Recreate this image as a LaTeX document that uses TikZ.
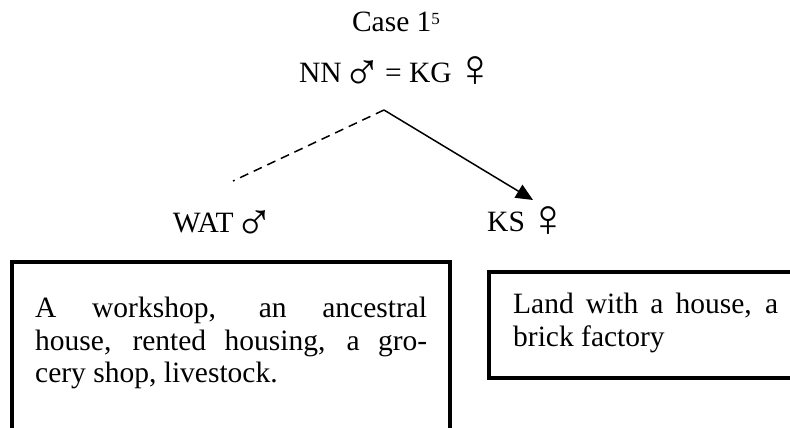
\documentclass[tikz,border=0pt]{standalone}
\usepackage{fontspec}
\usepackage{graphicx}
\setmainfont{Liberation Serif}
\usetikzlibrary{arrows.meta,calc}
\newcommand{\gmale}{\hspace{-6pt}\raisebox{-8pt}{\scalebox{1.8}{♂}}\hspace{-5pt}}
\newcommand{\gfemale}{\hspace{-4pt}\raisebox{-5pt}{\scalebox{1.8}{♀}}\hspace{-4pt}}
\newcommand{\supnum}[1]{\raisebox{7pt}{\fontsize{17}{17}\selectfont #1}}
\hbadness=10000
\begin{document}
\begin{tikzpicture}[x=1pt,y=-1pt,
  lbl/.style={inner sep=0pt, font=\fontsize{29.5}{32.5}\selectfont},
  para/.style={inner sep=0pt, align=justify, font=\fontsize{29.5}{32.5}\selectfont},
  frame/.style={draw, line width=4.5pt},
  link/.style={line width=1.5pt},
  kinline/.style={link, dash pattern=on 9pt off 6pt},
  heir/.style={link, -{Triangle[length=17pt,width=15pt]}}]
\useasboundingbox (0,0) rectangle (790,428);

% heading: case number and the couple
\node[lbl, anchor=base] (title) at (396,32) {Case 1\supnum{5}};
\node[lbl, anchor=base] (couple) at (397,82) {NN \gmale{} = KG \gfemale};

% descendants
\node[lbl, anchor=base east] (wat) at (275,232) {WAT \gmale};
\node[lbl, anchor=base west] (ks) at (487,231) {KS \gfemale};

% connectors from the couple
\coordinate (junction) at (384,110);
\coordinate (watend) at (233,181);
\coordinate (kstip) at (533,200);
\draw[kinline] (junction) -- (watend);
\draw[heir] (junction) -- (kstip);

% property boxes
\draw[frame] (12,262) rectangle (450,480);
\draw[frame] (489,272) rectangle (820,378);
\node[para, text width=392pt, anchor=north west] (watprop) at (35,297)
  {A workshop, an ancestral\linebreak house, rented housing, a gro-\linebreak cery shop, livestock.};
\node[para, text width=265pt, anchor=north west] (ksprop) at (513,293)
  {Land with a house, a\linebreak brick factory};
\end{tikzpicture}
\end{document}
